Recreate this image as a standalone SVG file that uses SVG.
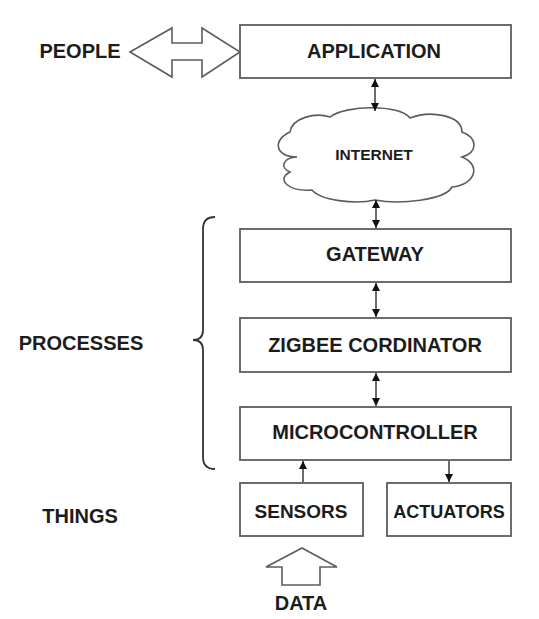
<svg xmlns="http://www.w3.org/2000/svg" width="539" height="619" viewBox="0 0 539 619">
<style>
.box{fill:#fff;stroke:#5c5c5c;stroke-width:1.8}
.shape{fill:#fff;stroke:#5c5c5c;stroke-width:1.6;stroke-linejoin:miter}
.t{font-family:"Liberation Sans",Arial,sans-serif;font-weight:bold;fill:#1c1c1c;text-anchor:middle}
.c{stroke:#3a3a3a;stroke-width:1.5;fill:none}
</style>
<defs>
<marker id="ah" viewBox="0 0 8 8" refX="8" refY="4" markerWidth="8" markerHeight="8" markerUnits="userSpaceOnUse" orient="auto-start-reverse">
<path d="M0,0 L8,4 L0,8 z" fill="#111"/>
</marker>
</defs>
<rect width="539" height="619" fill="#fff"/>

<g id="people">
<polygon class="shape" points="130,52 172,28 172,43 202,43 202,28 240,52 202,77 202,60 172,60 172,77"/>
<text class="t" x="80" y="58" font-size="20">PEOPLE</text>
</g>

<g id="application">
<rect class="box" x="240" y="25" width="271" height="53"/>
<text class="t" x="374" y="58" font-size="20">APPLICATION</text>
</g>

<g id="internet">
<path class="shape" d="M297,157 C275,157 272,140 290,132 C292,118 315,112 330,117 C345,105 400,104 410,118 C430,110 462,115 462,132 C478,138 478,152 462,157 C482,165 475,185 452,187 C445,200 400,205 375,200 C355,205 320,200 312,190 C290,192 275,180 290,172 C280,168 282,158 297,157 Z"/>
<text class="t" x="374" y="160" font-size="15.5">INTERNET</text>
</g>

<g id="gateway">
<rect class="box" x="240" y="229" width="271" height="53"/>
<text class="t" x="375" y="261" font-size="20">GATEWAY</text>
</g>

<g id="zigbee">
<rect class="box" x="240" y="318" width="271" height="54"/>
<text class="t" x="375" y="352" font-size="20">ZIGBEE CORDINATOR</text>
</g>

<g id="microcontroller">
<rect class="box" x="240" y="407" width="271" height="53"/>
<text class="t" x="375" y="439" font-size="20">MICROCONTROLLER</text>
</g>

<g id="sensors">
<rect class="box" x="240" y="483" width="123" height="53"/>
<text class="t" x="301" y="518" font-size="19">SENSORS</text>
</g>

<g id="actuators">
<rect class="box" x="387" y="483" width="124" height="53"/>
<text class="t" x="449" y="518" font-size="18">ACTUATORS</text>
</g>

<g id="data">
<polygon class="shape" points="302,548 337,567 320,567 320,585 282,585 282,567 266,567"/>
<text class="t" x="301" y="610" font-size="20">DATA</text>
</g>

<g id="processes">
<path d="M215,217 Q203,217 203,229 L203,330 Q203,340 193,340 Q203,340 203,350 L203,457 Q203,469 215,469" fill="none" stroke="#333" stroke-width="1.8"/>
<text class="t" x="81" y="350" font-size="20">PROCESSES</text>
</g>

<g id="things">
<text class="t" x="80" y="523" font-size="20">THINGS</text>
</g>

<g id="connectors">
<line class="c" x1="375" y1="79" x2="375" y2="111" marker-start="url(#ah)" marker-end="url(#ah)"/>
<line class="c" x1="376" y1="200" x2="376" y2="228" marker-start="url(#ah)" marker-end="url(#ah)"/>
<line class="c" x1="376" y1="283" x2="376" y2="317" marker-start="url(#ah)" marker-end="url(#ah)"/>
<line class="c" x1="376" y1="373" x2="376" y2="406" marker-start="url(#ah)" marker-end="url(#ah)"/>
<line class="c" x1="303" y1="482" x2="303" y2="461" marker-end="url(#ah)"/>
<line class="c" x1="449" y1="461" x2="449" y2="482" marker-end="url(#ah)"/>
</g>
</svg>
